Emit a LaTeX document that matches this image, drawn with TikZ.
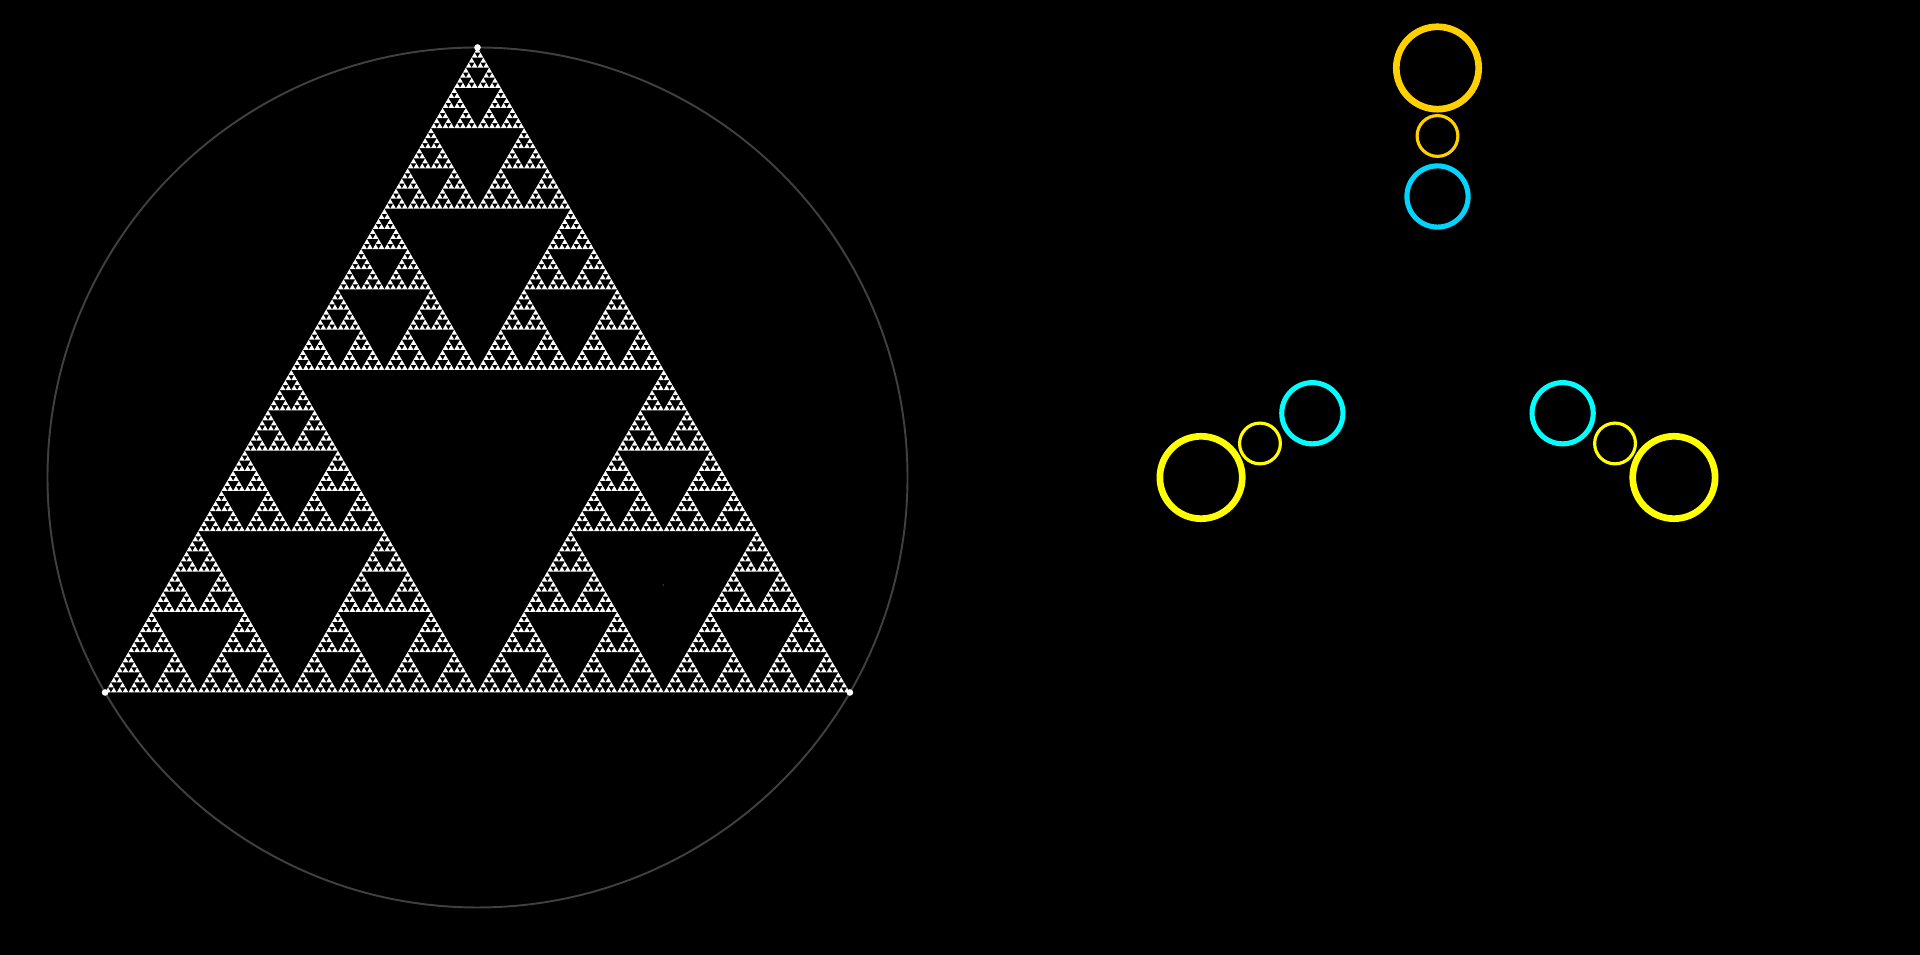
\documentclass[tikz,border=0pt]{standalone}
\usetikzlibrary{calc}
\definecolor{gold}{HTML}{FFD000}
\definecolor{skyblue}{HTML}{00D4FF}
\definecolor{lemon}{HTML}{FFFF00}
\definecolor{aqua}{HTML}{00FFFF}
\definecolor{ringgray}{HTML}{404040}
\tikzset{
  bigring/.style={draw, line width=1.9pt},
  smallring/.style={draw, line width=0.9pt},
  midring/.style={draw, line width=1.45pt},
  vertexdot/.style={fill=white}
}
% #1 depth, #2 x, #3 y (lower left corner), #4 side
\newcommand{\sierp}[4]{%
  \begingroup
  \edef\sx{#2}\edef\sy{#3}\edef\ss{#4}%
  \ifnum#1=0\relax
    \fill[white] (\sx,\sy) -- ++(\ss,0) -- ++(-0.5*\ss,0.8660254*\ss) -- cycle;
  \else
    \pgfmathsetmacro\h{\ss/2}%
    \pgfmathsetmacro\xr{\sx+\h}%
    \pgfmathsetmacro\xt{\sx+\h/2}%
    \pgfmathsetmacro\yt{\sy+0.8660254*\h}%
    \pgfmathtruncatemacro\d{#1-1}%
    \sierp{\d}{\sx}{\sy}{\h}%
    \sierp{\d}{\xr}{\sy}{\h}%
    \sierp{\d}{\xt}{\yt}{\h}%
  \fi
  \endgroup}

\begin{document}
\begin{tikzpicture}[x=0.01cm, y=0.01cm]
  \fill[black] (0,0) rectangle (1920,955);
  \useasboundingbox (0,0) rectangle (1920,955);

  % triangle in its circle
  \coordinate (centre) at (477.5,477.5);
  \draw[ringgray, line width=0.55pt] (centre) circle[radius=430];
  \sierp{7}{105.1}{262.5}{744.8}
  \foreach \a in {90,210,330}
    \fill[vertexdot] ($(centre)+(\a:430)$) circle[radius=3.3];
  \coordinate (stray) at (663.3,370);
  \fill[ringgray] (stray) circle[radius=0.9];

  % three ring groups
  \coordinate (hub) at (1437.5,614);
  \draw[bigring, gold] ($(hub)+(90:273)$) circle[radius=41.2];
  \draw[smallring, gold] ($(hub)+(90:205)$) circle[radius=20.4];
  \draw[midring, skyblue] ($(hub)+(90:144.5)$) circle[radius=30.6];
  \foreach \a in {210,330} {
    \draw[bigring, lemon] ($(hub)+(\a:273)$) circle[radius=41.2];
    \draw[smallring, lemon] ($(hub)+(\a:205)$) circle[radius=20.4];
    \draw[midring, aqua] ($(hub)+(\a:144.5)$) circle[radius=30.6];
  }
\end{tikzpicture}
\end{document}
